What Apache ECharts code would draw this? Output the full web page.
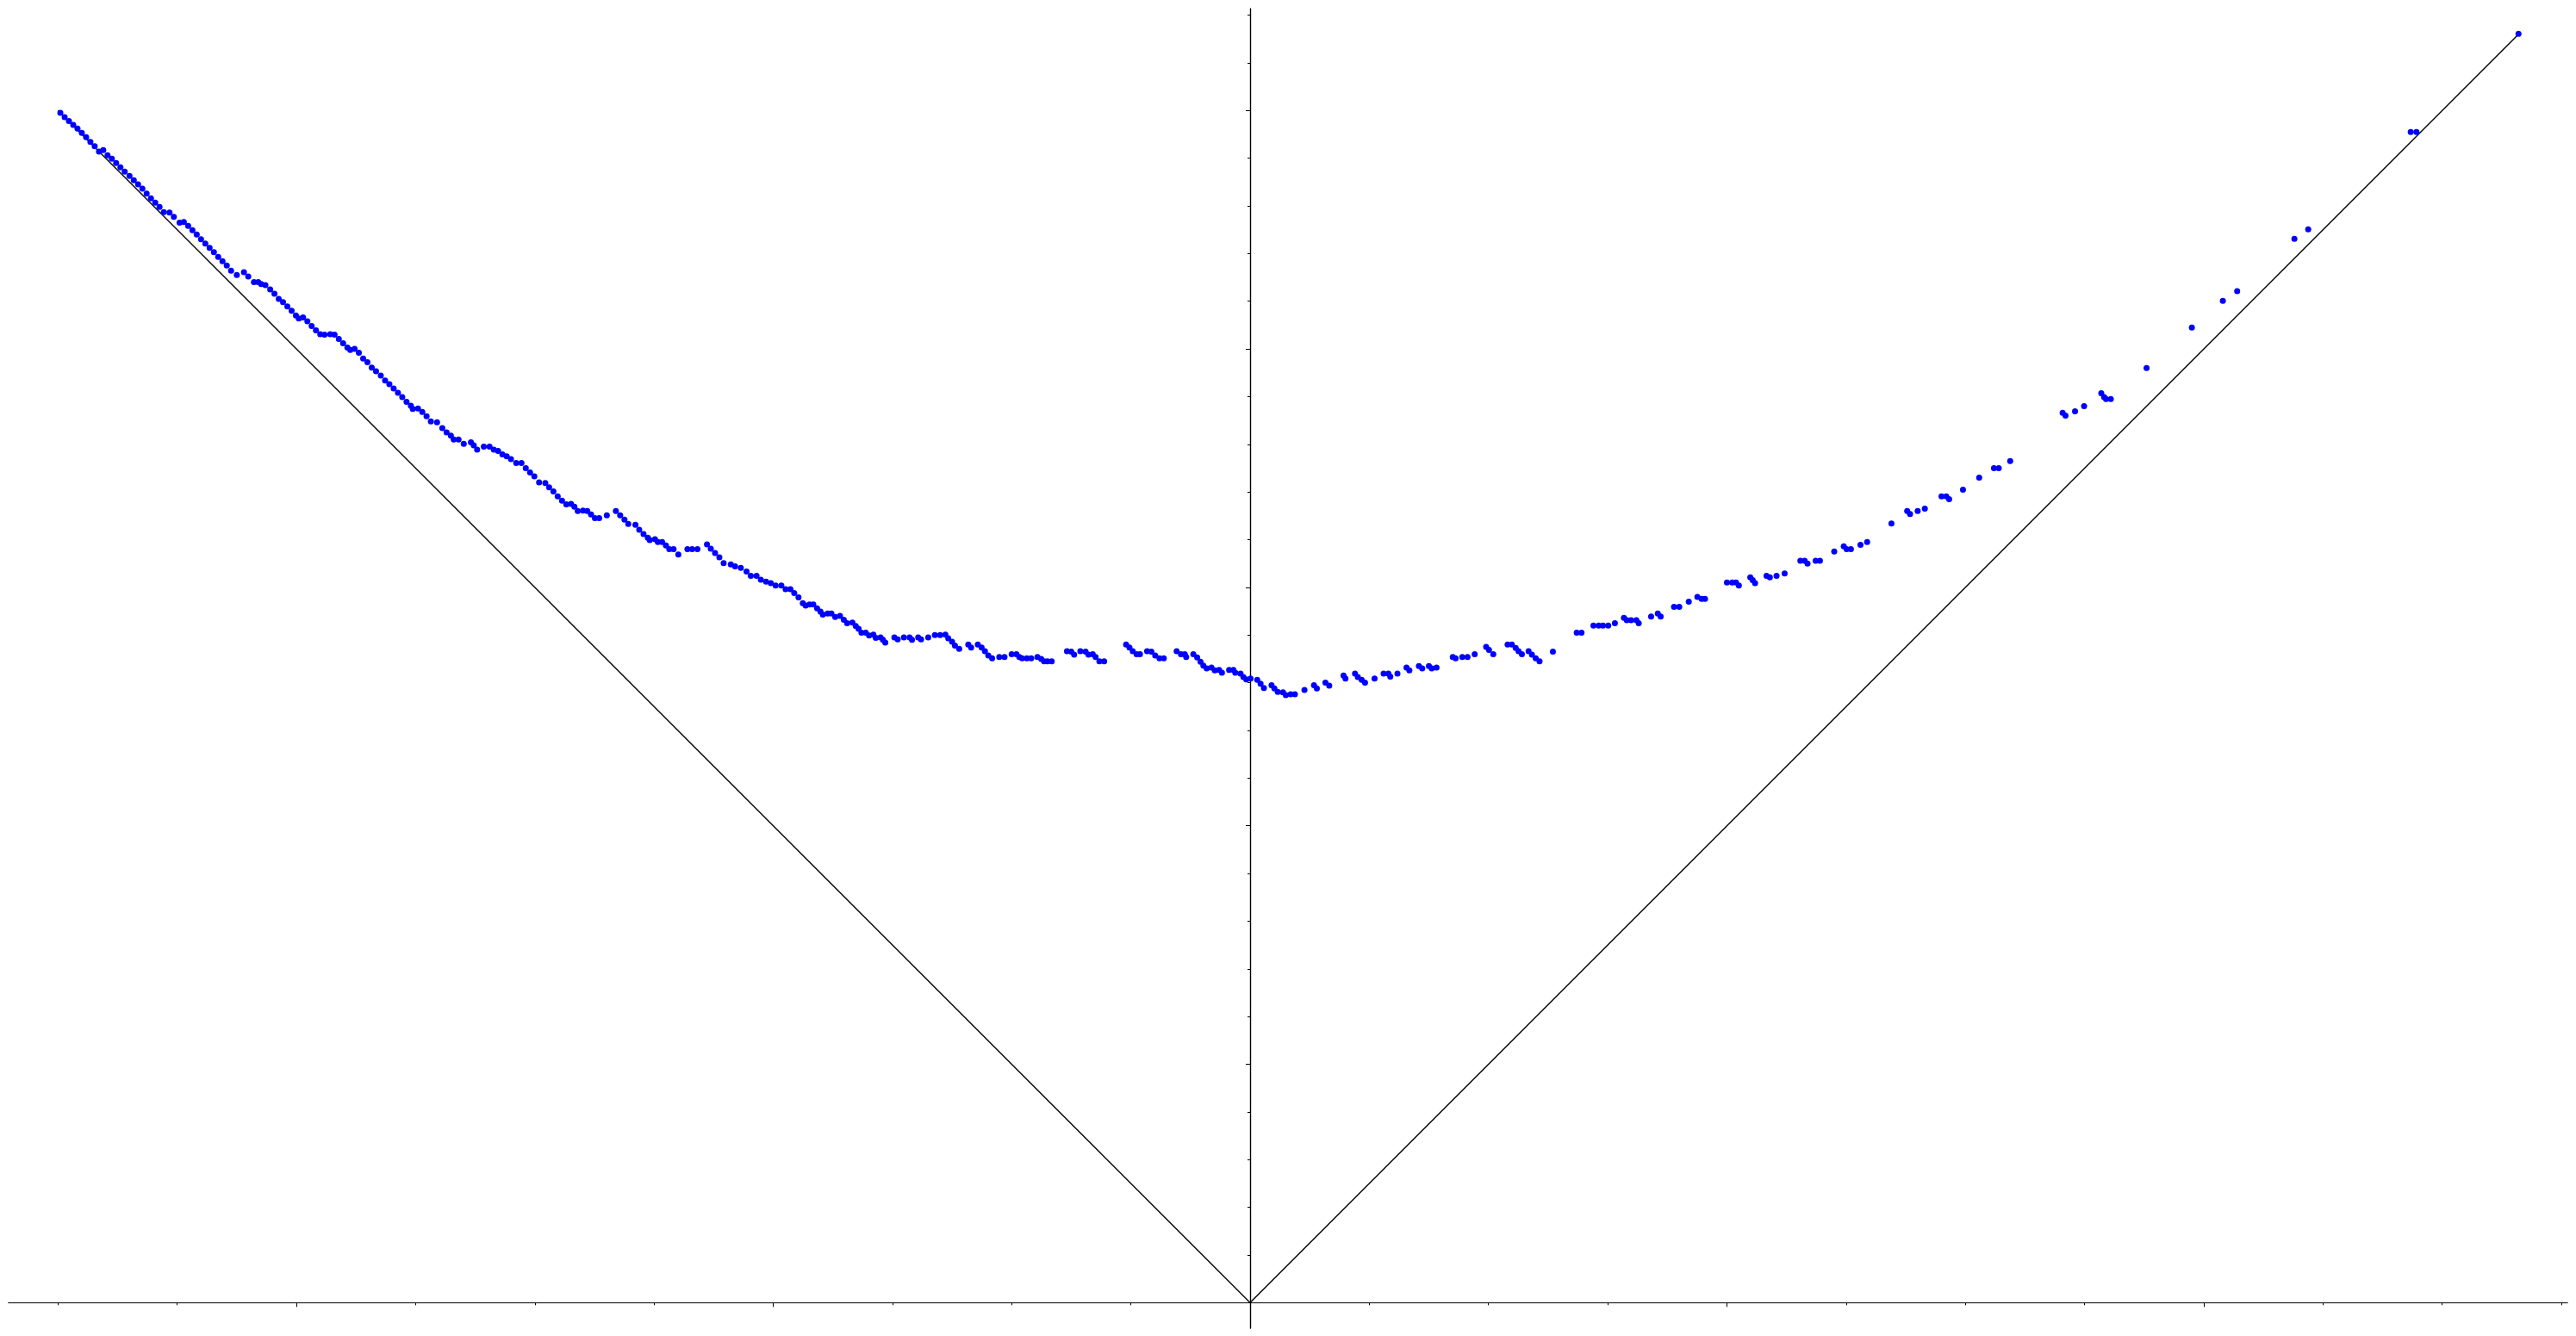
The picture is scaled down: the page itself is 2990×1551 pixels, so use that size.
<!DOCTYPE html>
<html>
<head>
<meta charset="utf-8">
<title>scatter</title>
<script src="https://cdn.jsdelivr.net/npm/echarts@6.0.0/dist/echarts.min.js"></script>
<style>
	html, body { margin: 0; padding: 0; background: #ffffff; }
	.chart { width: 2990px; height: 1551px; }
</style>
</head>
<body>
<div class="chart"></div>
<script>
/**
 * 数据
 * */
// 左侧下降段
var descentPts = [
	[-2.495,2.495],[-2.486,2.486],[-2.477,2.478],[-2.468,2.470],[-2.459,2.462],[-2.450,2.453],[-2.441,2.444],[-2.432,2.434],[-2.423,2.425],[-2.414,2.414],
	[-2.405,2.417],[-2.396,2.406],[-2.387,2.399],[-2.378,2.390],[-2.369,2.381],[-2.360,2.372],[-2.350,2.363],[-2.341,2.354],[-2.332,2.345],[-2.323,2.336],
	[-2.314,2.326],[-2.305,2.316],[-2.296,2.307],[-2.287,2.298],[-2.278,2.287],[-2.266,2.286],[-2.257,2.277],[-2.245,2.265],[-2.236,2.266],[-2.227,2.258],
	[-2.218,2.249],[-2.209,2.240],[-2.200,2.230],[-2.191,2.221],[-2.182,2.212],[-2.173,2.203],[-2.164,2.193],[-2.155,2.184],[-2.146,2.175],[-2.137,2.164],
	[-2.125,2.155],[-2.110,2.161],[-2.101,2.152],[-2.089,2.140],[-2.080,2.140],[-2.074,2.136],[-2.065,2.134],[-2.055,2.125],[-2.046,2.116],[-2.037,2.105],
	[-2.028,2.098],[-2.019,2.089],[-2.010,2.080],[-2.001,2.070],[-1.995,2.064],[-1.986,2.066],[-1.977,2.058],[-1.968,2.048],[-1.959,2.039],[-1.950,2.031],
	[-1.941,2.030],[-1.929,2.031],[-1.920,2.030],[-1.911,2.021],[-1.902,2.012],[-1.893,2.003],[-1.887,1.998],[-1.878,2.000],[-1.869,1.992],[-1.860,1.980],
	[-1.851,1.972],[-1.842,1.961],[-1.833,1.953],[-1.823,1.944],[-1.814,1.934],[-1.805,1.926],[-1.796,1.917],[-1.787,1.908],[-1.778,1.899],[-1.769,1.889],
	[-1.760,1.881],[-1.756,1.874],[-1.745,1.875],[-1.736,1.868],[-1.727,1.859],[-1.718,1.848],[-1.705,1.846],[-1.694,1.834],[-1.685,1.825],[-1.676,1.818],
	[-1.670,1.810],[-1.660,1.810],[-1.649,1.801],[-1.634,1.804],[-1.628,1.798],[-1.621,1.789],[-1.607,1.795],[-1.595,1.795],[-1.586,1.789],[-1.577,1.786],
	[-1.568,1.779],[-1.559,1.775],[-1.550,1.769],[-1.539,1.761],[-1.528,1.761],[-1.519,1.750],[-1.510,1.741],[-1.501,1.733],[-1.491,1.720],[-1.478,1.719],
	[-1.470,1.710],[-1.461,1.701],[-1.452,1.691],[-1.443,1.682],[-1.434,1.674],[-1.424,1.675],[-1.417,1.669],[-1.410,1.660],[-1.399,1.661],[-1.390,1.660],
	[-1.382,1.653],[-1.374,1.645],[-1.365,1.645],[-1.349,1.651],[-1.330,1.660],[-1.321,1.651],[-1.312,1.642],[-1.304,1.633],[-1.289,1.631],[-1.281,1.621],
	[-1.272,1.612],[-1.263,1.604],[-1.259,1.599],[-1.248,1.601],[-1.242,1.595],[-1.233,1.595],[-1.225,1.588],[-1.218,1.580],[-1.209,1.580],[-1.199,1.569],
	[-1.180,1.580],[-1.170,1.580],[-1.159,1.580],[-1.139,1.590],[-1.131,1.581],[-1.122,1.572],[-1.113,1.563],[-1.104,1.551],[-1.089,1.548],[-1.080,1.544],
	[-1.068,1.541],[-1.056,1.533],[-1.047,1.524],[-1.035,1.524],[-1.026,1.516],[-1.015,1.512],[-1.005,1.509],[-0.995,1.504],[-0.983,1.504],[-0.974,1.496],
	[-0.964,1.496],[-0.956,1.488],[-0.947,1.479],[-0.938,1.467],[-0.932,1.462],[-0.924,1.464],[-0.916,1.464],[-0.908,1.456],[-0.901,1.449],[-0.896,1.443],
	[-0.886,1.445],[-0.878,1.445],[-0.870,1.438],[-0.860,1.440],[-0.852,1.432],[-0.845,1.425],[-0.834,1.426],[-0.827,1.419]
];
// 中间平缓段
var floorPts = [
	[-0.821,1.413],[-0.815,1.405],[-0.806,1.405],[-0.799,1.399],[-0.790,1.401],[-0.785,1.394],[-0.775,1.395],[-0.770,1.390],[-0.765,1.384],
	[-0.746,1.395],[-0.739,1.391],[-0.726,1.395],[-0.714,1.395],[-0.709,1.390],[-0.696,1.395],[-0.690,1.391],[-0.675,1.395],[-0.661,1.400],[-0.650,1.400],
	[-0.639,1.401],[-0.633,1.393],[-0.625,1.386],[-0.619,1.378],[-0.610,1.371],
	[-0.591,1.380],[-0.585,1.374],[-0.571,1.380],[-0.563,1.374],[-0.556,1.366],[-0.549,1.357],[-0.541,1.351],[-0.526,1.354],[-0.515,1.354],[-0.500,1.360],
	[-0.490,1.360],[-0.484,1.354],[-0.478,1.351],[-0.468,1.351],[-0.459,1.351],[-0.446,1.354],[-0.438,1.350],[-0.432,1.345],[-0.425,1.345],[-0.416,1.345],
	[-0.384,1.366],[-0.375,1.365],[-0.369,1.359],[-0.356,1.366],[-0.345,1.365],[-0.339,1.359],[-0.330,1.360],[-0.324,1.354],[-0.316,1.345],[-0.306,1.345],
	[-0.260,1.380],[-0.253,1.374],[-0.246,1.366],[-0.238,1.360],[-0.231,1.360],[-0.216,1.366],[-0.207,1.365],[-0.199,1.357],[-0.190,1.351],[-0.181,1.351],
	[-0.154,1.366],[-0.145,1.360],[-0.137,1.360],[-0.134,1.354],[-0.119,1.360],[-0.111,1.353],[-0.104,1.344],[-0.098,1.336],[-0.091,1.330],[-0.081,1.332],
	[-0.074,1.326],[-0.065,1.327],[-0.059,1.321],[-0.044,1.327],[-0.035,1.327],[-0.031,1.321],[-0.020,1.319],[-0.014,1.312],[-0.008,1.307]
];
// 右侧上升段
var risePts = [
	[0.001,1.309],[0.015,1.306],[0.022,1.298],[0.029,1.289],[0.045,1.295],[0.051,1.288],[0.058,1.281],[0.069,1.280],[0.075,1.274],[0.085,1.276],[0.094,1.276],
	[0.114,1.285],[0.134,1.295],[0.140,1.288],[0.158,1.300],[0.166,1.294],[0.196,1.315],[0.200,1.309],[0.220,1.319],[0.226,1.312],[0.234,1.306],[0.241,1.300],
	[0.261,1.309],[0.280,1.319],[0.290,1.319],[0.294,1.313],[0.309,1.319],[0.328,1.332],[0.334,1.326],[0.354,1.335],[0.361,1.330],[0.375,1.335],[0.381,1.330],[0.391,1.332],
	[0.425,1.354],[0.431,1.351],[0.445,1.354],[0.456,1.354],[0.471,1.360],[0.495,1.375],[0.501,1.369],[0.510,1.360],[0.540,1.380],[0.549,1.380],[0.557,1.373],
	[0.563,1.366],[0.570,1.360],[0.584,1.366],[0.591,1.359],[0.599,1.351],[0.607,1.345],[0.635,1.365],
	[0.685,1.405],[0.695,1.405],[0.720,1.420],[0.731,1.420],[0.740,1.420],[0.751,1.420],[0.765,1.425],[0.784,1.436],[0.790,1.431],[0.799,1.431],[0.810,1.431],
	[0.815,1.425],[0.841,1.439],[0.855,1.445],[0.861,1.439],[0.889,1.459],[0.900,1.459],[0.920,1.470],[0.938,1.480],[0.947,1.476],[0.954,1.476],
	[1.000,1.510],[1.011,1.510],[1.019,1.510],[1.025,1.504],[1.049,1.521],[1.054,1.515],[1.059,1.509],[1.083,1.524],[1.090,1.521],[1.104,1.524],[1.121,1.529],
	[1.154,1.556],[1.163,1.556],[1.169,1.550],[1.186,1.556],[1.195,1.556],[1.225,1.575],[1.245,1.586],[1.251,1.580],[1.260,1.580],[1.280,1.589],[1.294,1.595],
	[1.345,1.634],[1.378,1.660],[1.384,1.654],[1.400,1.660],[1.415,1.665],[1.450,1.691],[1.460,1.691],[1.466,1.685],[1.495,1.705],[1.529,1.730],[1.560,1.750],
	[1.570,1.750],[1.594,1.765],
	[1.704,1.866],[1.710,1.860],[1.730,1.869],[1.749,1.880],[1.785,1.907],[1.791,1.899],[1.795,1.895],[1.805,1.895],[1.880,1.960],[1.975,2.045],[2.040,2.101],
	[2.070,2.121],[2.190,2.231],[2.219,2.251],[2.434,2.455],[2.446,2.455],[2.660,2.661]
];
// y = |x| 参考线
var vLine = [[-2.5, 2.5], [0, 0], [2.66, 2.66]];

// 刻度
var xMajorTicks = [-2, -1, 0, 1, 2];
var xMinorTicks = [-2.5, -2.25, -1.75, -1.5, -1.25, -0.75, -0.5, -0.25, 0.25, 0.5, 0.75, 1.25, 1.5, 1.75, 2.25, 2.5, 2.75];
var yMajorTicks = [0, 0.5, 1, 1.5, 2, 2.5];
var yMinorTicks = [0.1, 0.2, 0.3, 0.4, 0.6, 0.7, 0.8, 0.9, 1.1, 1.2, 1.3, 1.4, 1.6, 1.7, 1.8, 1.9, 2.1, 2.2, 2.3, 2.4, 2.6, 2.7];

/**
 * 坐标轴范围
 * */
var range = {
	xMin: -2.6035,
	xMax: 2.7625,
	yMin: -0.0537,
	yMax: 2.7137
}

// 坐标轴公用设置
function makeAxis(dim, ticks, len) {
	return {
		type: 'value',
		position: dim == 'x' ? 'bottom' : 'left',
		min: dim == 'x' ? range.xMin : range.yMin,
		max: dim == 'x' ? range.xMax : range.yMax,
		axisLine: {
			show: true,
			onZero: true,
			onZeroAxisIndex: 0,
			lineStyle: { color: '#000000', width: 1.2 }
		},
		axisTick: {
			show: true,
			inside: false,
			length: len,
			customValues: ticks,
			lineStyle: { color: '#000000', width: 1 }
		},
		axisLabel: { show: false },
		splitLine: { show: false },
		minorTick: { show: false }
	};
}

var option = {
	backgroundColor: '#ffffff',
	animation: false,
	grid: {
		left: 10,
		right: 10,
		top: 10,
		bottom: 9,
		containLabel: false,
		outerBoundsMode: 'none'
	},
	xAxis: [
		makeAxis('x', xMajorTicks, 5),
		makeAxis('x', xMinorTicks, 3)
	],
	yAxis: [
		makeAxis('y', yMajorTicks, 5),
		makeAxis('y', yMinorTicks, 3)
	],
	series: [{
		type: 'line',
		data: vLine,
		symbol: 'none',
		silent: true,
		lineStyle: { color: '#000000', width: 1.4, opacity: 1 },
		z: 1
	}, {
		type: 'scatter',
		data: descentPts.concat(floorPts, risePts),
		symbol: 'circle',
		symbolSize: 7,
		silent: true,
		itemStyle: { color: '#0000ff', opacity: 1 },
		z: 3
	}]
};

var myChart = echarts.init(document.querySelector('.chart'));
myChart.setOption(option);
</script>
</body>
</html>
